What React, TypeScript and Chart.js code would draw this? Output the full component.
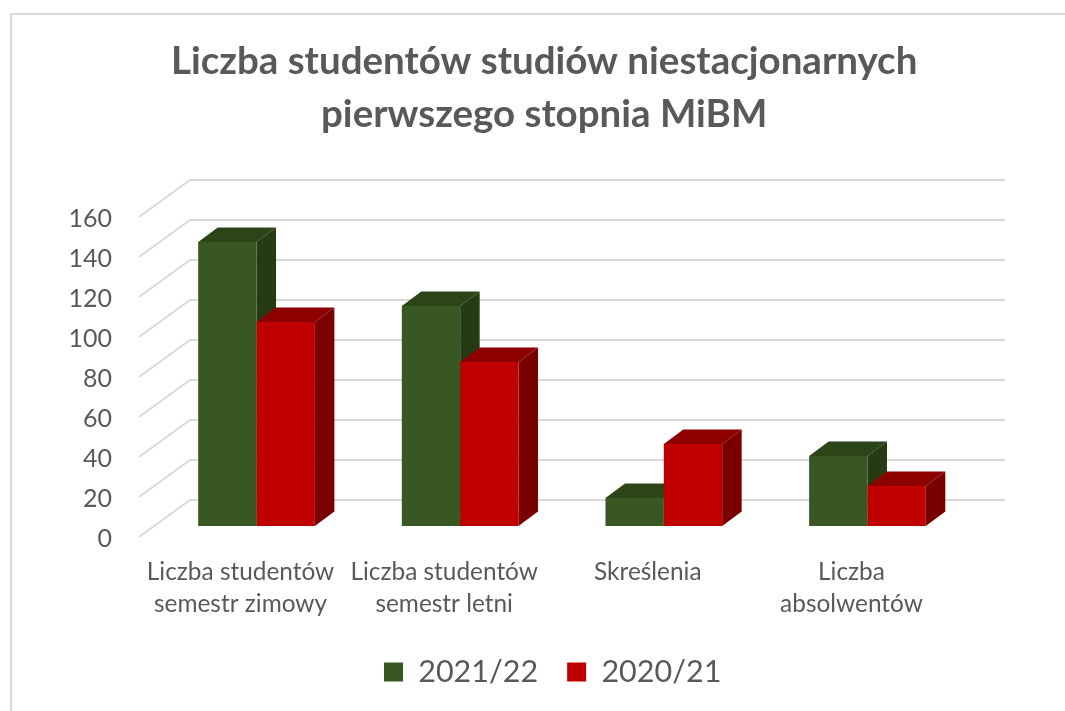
import React, { useEffect, useRef } from "react";
import { Chart, registerables } from "chart.js";

Chart.register(...registerables);

const categories = [
  ["Liczba studentów", "semestr zimowy"],
  ["Liczba studentów", "semestr letni"],
  ["Skreślenia"],
  ["Liczba", "absolwentów"],
];
const series2122 = [142, 110, 14, 35];
const series2021 = [102, 82, 41, 20];
const titleLines = ["Liczba studentów studiów niestacjonarnych", "pierwszego stopnia MiBM"];

const FONT = "Lato, 'Open Sans', sans-serif";
const TEXT = "#595959";
const GRID = "#d9d9d9";
const DEPTH_X = 19.5;
const DEPTH_Y = 14.5;
const sideColors = [
  { top: "#2c4518", side: "#263b14" },
  { top: "#8e0000", side: "#7a0000" },
];

const backdrop = {
  id: "backdrop",
  afterLayout(chart: any) {
    chart.titleBlock.left += 59.5;
    chart.titleBlock.right += 59.5;
    chart.legend.left += 68;
    chart.legend.right += 68;
    chart.legend.top = 627.75;
  },
  beforeDatasetsDraw(chart: any) {
    const { ctx, scales } = chart;
    const { x, y } = scales;
    ctx.save();
    // frame
    ctx.strokeStyle = GRID;
    ctx.lineWidth = 2;
    ctx.beginPath();
    ctx.moveTo(11, chart.height);
    ctx.lineTo(11, 14);
    ctx.lineTo(chart.width, 14);
    ctx.stroke();
    // walls
    y.ticks.forEach((t: any) => {
      const py = y.getPixelForValue(t.value) - 26;
      ctx.beginPath();
      ctx.moveTo(x.left - 15.7, py + 37);
      ctx.lineTo(x.left + 35.3, py);
      ctx.lineTo(x.right + 35.7, py);
      ctx.stroke();
    });
    // 3D sides
    [0, 1].forEach((i) => {
      chart.getDatasetMeta(i).data.forEach((bar: any) => {
        const l = bar.x - bar.width / 2;
        const r = bar.x + bar.width / 2;
        const t = bar.y;
        const b = bar.base;
        ctx.fillStyle = sideColors[i].top;
        ctx.beginPath();
        ctx.moveTo(l, t);
        ctx.lineTo(l + DEPTH_X, t - DEPTH_Y);
        ctx.lineTo(r + DEPTH_X, t - DEPTH_Y);
        ctx.lineTo(r, t);
        ctx.closePath();
        ctx.fill();
        ctx.fillStyle = sideColors[i].side;
        ctx.beginPath();
        ctx.moveTo(r, t);
        ctx.lineTo(r + DEPTH_X, t - DEPTH_Y);
        ctx.lineTo(r + DEPTH_X, b - DEPTH_Y);
        ctx.lineTo(r, b);
        ctx.closePath();
        ctx.fill();
      });
    });
    ctx.restore();
  },
};

export default function App() {
  const ref = useRef<HTMLCanvasElement>(null);
  useEffect(() => {
    const chart = new Chart(ref.current as HTMLCanvasElement, {
      type: "bar",
      data: {
        labels: categories,
        datasets: [
          { label: "2021/22", data: series2122, backgroundColor: "#385723" },
          { label: "2020/21", data: series2021, backgroundColor: "#c00000" },
        ],
      },
      plugins: [backdrop],
      options: {
        responsive: false,
        animation: false,
        layout: { padding: { left: 0, right: 95.7, top: 0, bottom: 0 } },
        datasets: { bar: { categoryPercentage: 0.573, barPercentage: 1 } },
        scales: {
          x: {
            grid: { display: false },
            border: { display: false },
            afterFit: (s: any) => { s.height = 115.5; },
            ticks: {
              autoSkip: false,
              maxRotation: 0,
              minRotation: 0,
              padding: 22,
              labelOffset: -16,
              color: TEXT,
              font: { family: FONT, size: 24.4, lineHeight: 1.31 },
            },
          },
          y: {
            min: 0,
            max: 160,
            grid: { display: false, drawTicks: false },
            border: { display: false },
            afterFit: (s: any) => { s.width = 154.7; },
            ticks: {
              stepSize: 20,
              padding: 42.7,
              labelOffset: 12.5,
              color: TEXT,
              font: { family: FONT, size: 25 },
            },
          },
        },
        plugins: {
          title: {
            display: true,
            text: titleLines,
            color: TEXT,
            font: { family: FONT, size: 38.5, weight: "bold", lineHeight: 1.377 },
            padding: { top: 35.5, bottom: 64.5 },
          },
          legend: {
            display: true,
            position: "bottom",
            labels: {
              boxWidth: 19,
              boxHeight: 19,
              padding: 29,
              color: TEXT,
              font: { family: FONT, size: 30.5 },
            },
          },
          tooltip: { enabled: false },
        },
      } as any,
    });
    return () => chart.destroy();
  }, []);
  return (
    <div style={{ position: "absolute", left: 0, top: 0, width: 1065, height: 711, overflow: "hidden", background: "#fff" }}>
      <canvas ref={ref} width={1065} height={711} style={{ display: "block" }} />
    </div>
  );
}
